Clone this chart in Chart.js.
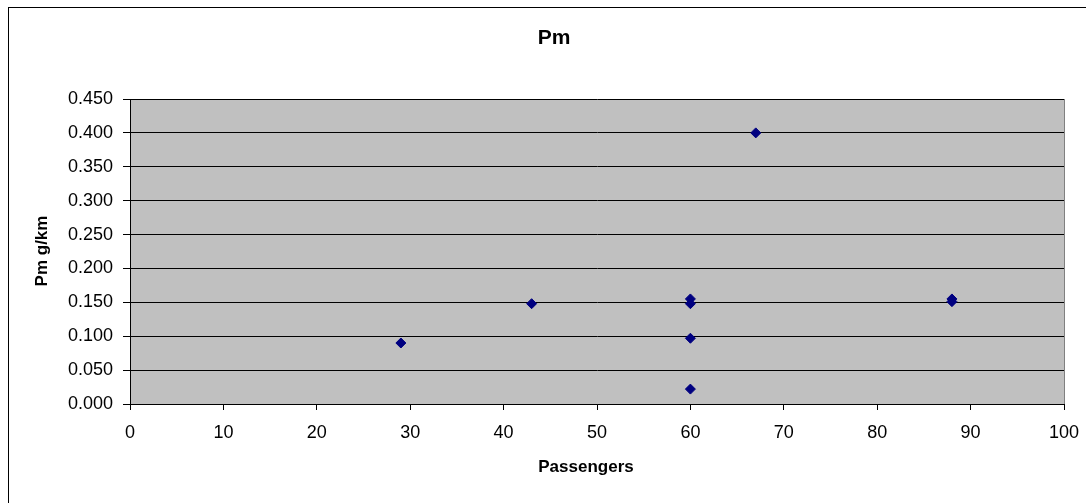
<!DOCTYPE html>
<html>
<head>
<meta charset="utf-8">
<script src="https://cdn.jsdelivr.net/npm/chart.js@4"></script>
<style>
html,body{margin:0;padding:0;background:#fff;}
canvas{display:block;}
</style>
</head>
<body>
<canvas id="c" width="1086" height="503"></canvas>
<script>
const passengers = [29, 43, 60, 60, 60, 60, 67, 88, 88];
const pmValues = [0.090, 0.148, 0.155, 0.148, 0.097, 0.022, 0.400, 0.155, 0.151];
const chartTitle = 'Pm';
const xTitle = 'Passengers';
const yTitle = 'Pm g/km';

const FONT = "'Liberation Sans', Arial, sans-serif";

const bgPlugin = {
  id: 'bg',
  beforeDraw(chart) {
    const ctx = chart.ctx;
    const a = chart.chartArea;
    ctx.save();
    ctx.fillStyle = '#ffffff';
    ctx.fillRect(0, 0, chart.width, chart.height);
    ctx.strokeStyle = '#000000';
    ctx.lineWidth = 1;
    ctx.strokeRect(8.5, 7.5, 1300, 1300);
    ctx.fillStyle = '#c0c0c0';
    ctx.fillRect(a.left, a.top, a.right - a.left, a.bottom - a.top);
    ctx.restore();
  },
  beforeDatasetsDraw(chart) {
    const ctx = chart.ctx;
    const a = chart.chartArea;
    ctx.save();
    ctx.strokeStyle = '#808080';
    ctx.lineWidth = 1;
    ctx.beginPath();
    ctx.moveTo(a.right + 0.5, a.top);
    ctx.lineTo(a.right + 0.5, a.bottom);
    ctx.stroke();
    ctx.restore();
  },
  afterDraw(chart) {
    const ctx = chart.ctx;
    ctx.save();
    ctx.fillStyle = '#000';
    ctx.textAlign = 'center';
    ctx.textBaseline = 'middle';
    ctx.font = "bold 21px " + FONT;
    ctx.fillText(chartTitle, 554, 38);
    ctx.font = "bold 17px " + FONT;
    ctx.fillText(xTitle, 586, 467);
    ctx.translate(42.5, 251);
    ctx.rotate(-Math.PI / 2);
    ctx.fillText(yTitle, 0, 0);
    ctx.restore();
  }
};

new Chart(document.getElementById('c'), {
  type: 'scatter',
  data: {
    datasets: [{
      label: yTitle,
      data: passengers.map((x, i) => ({x: x, y: pmValues[i]})),
      pointStyle: 'rectRot',
      pointRadius: 5,
      pointHoverRadius: 5,
      backgroundColor: '#000080',
      borderColor: '#000080',
      borderWidth: 1
    }]
  },
  plugins: [bgPlugin],
  options: {
    responsive: false,
    animation: false,
    devicePixelRatio: 1,
    layout: { padding: { left: 0, top: 99, right: 22, bottom: 0 } },
    plugins: {
      legend: { display: false },
      tooltip: { enabled: false },
      title: { display: false }
    },
    scales: {
      x: {
        type: 'linear',
        min: 0, max: 100,
        afterFit(s) { s.height = 99; s.paddingLeft = 0; s.paddingRight = 0; },
        ticks: {
          stepSize: 10,
          color: '#000',
          font: { family: FONT, size: 18 },
          padding: 12,
          maxRotation: 0,
          autoSkip: false
        },
        grid: {
          drawOnChartArea: false,
          drawTicks: true,
          tickLength: 6,
          color: '#000'
        },
        border: { display: true, color: '#000', width: 1 },
        title: { display: false }
      },
      y: {
        type: 'linear',
        min: 0, max: 0.45,
        afterFit(s) { s.width = 130; s.paddingTop = 0; s.paddingBottom = 0; },
        ticks: {
          stepSize: 0.05,
          color: '#000',
          font: { family: FONT, size: 18 },
          padding: 10,
          callback: (v) => Number(v).toFixed(3)
        },
        grid: {
          drawOnChartArea: true,
          drawTicks: true,
          tickLength: 7,
          color: '#000',
          lineWidth: 1
        },
        border: { display: true, color: '#000', width: 1 },
        title: { display: false }
      }
    }
  }
});
</script>
</body>
</html>
